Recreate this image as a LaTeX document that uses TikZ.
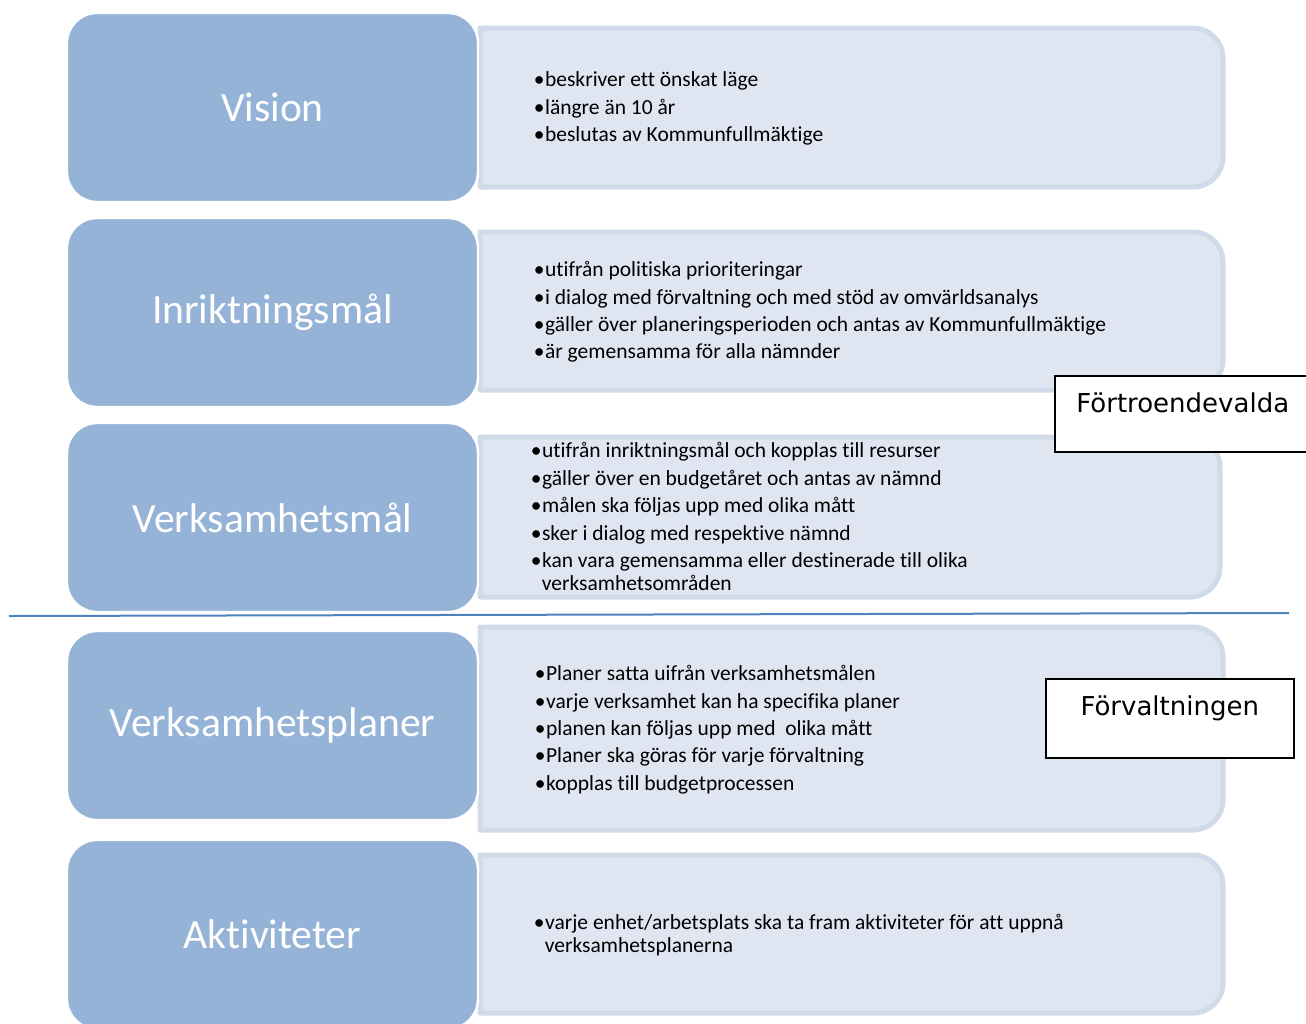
\documentclass[tikz,border=0pt]{standalone}
\usepackage{fontspec}
\setmainfont{Carlito}[RawFeature={-liga;-clig;-dlig}]
\newfontfamily\lblfont{DejaVu Sans}
\definecolor{bluebox}{HTML}{95B3D7}
\definecolor{lightfill}{HTML}{DFE6F1}
\definecolor{lightedge}{HTML}{D1DAE9}
\definecolor{divline}{HTML}{4F81BD}
\newcommand{\bt}{\makebox[5.6pt][l]{•}}
\newcommand{\rightbox}[4]{%
  \draw[rbox] (#1,#2) -- ({#3-30},#2) .. controls ({#3-13.4},#2) and (#3,{#2+13.4}) .. (#3,{#2+30})
    -- (#3,{#4-30}) .. controls (#3,{#4-13.4}) and ({#3-13.4},#4) .. ({#3-30},#4) -- (#1,#4) -- cycle;}
\begin{document}
\begin{tikzpicture}[x=0.5pt,y=-0.5pt,
  rbox/.style={fill=lightfill,draw=lightedge,line width=2.5pt,line join=round},
  bbox/.style={fill=bluebox,draw=white,line width=1.2pt,rounded corners=15pt,
    minimum width=205.5pt,minimum height=94.5pt,inner sep=0pt,text=white,
    font=\fontsize{20.8pt}{25pt}\selectfont},
  item/.style={anchor=mid west,inner sep=0pt,font=\fontsize{10.75pt}{12pt}\selectfont},
  lbox/.style={draw=black,line width=0.75pt,fill=white,anchor=north west,align=left,
    font=\lblfont\fontsize{13pt}{15pt}\selectfont,inner xsep=9.2pt,inner ysep=8.5pt,text height=10pt}
]
\useasboundingbox (0,0) rectangle (1306,1023);
\clip (0,0) rectangle (1306,1023);
% right boxes
\rightbox{480}{28}{1223}{187}
\rightbox{480}{232}{1223}{390}
\rightbox{480}{437}{1220}{597}
\rightbox{480}{627}{1223}{830}
\rightbox{480}{855}{1223}{1013}
% blue boxes
\node[bbox] (b1) at (272.5,107.5) {Vision};
\node[bbox] (b2) at (272.5,312.5) {Inriktningsmål};
\node[bbox] (b3) at (272.5,517.5) {Verksamhetsmål};
\node[bbox] (b4) at (272.5,725.5) {Verksamhetsplaner};
\node[bbox] (b5) at (272.5,934.5) {Aktiviteter};
% texts box 1
\node[item] (t1a) at (533.5,82) {\bt beskriver ett önskat läge};
\node[item] (t1b) at (533.5,110) {\bt längre än 10 år};
\node[item] (t1c) at (533.5,137) {\bt beslutas av Kommunfullmäktige};
% texts box 2
\node[item] (t2a) at (533.5,272) {\bt utifrån politiska prioriteringar};
\node[item] (t2b) at (533.5,300) {\bt i dialog med förvaltning och med stöd av omvärldsanalys};
\node[item] (t2c) at (533.5,327) {\bt gäller över planeringsperioden och antas av Kommunfullmäktige};
\node[item] (t2d) at (533.5,354) {\bt är gemensamma för alla nämnder};
% texts box 3
\node[item] (t3a) at (530.5,453) {\bt utifrån inriktningsmål och kopplas till resurser};
\node[item] (t3b) at (530.5,481) {\bt gäller över en budgetåret och antas av nämnd};
\node[item] (t3c) at (530.5,508) {\bt målen ska följas upp med olika mått};
\node[item] (t3d) at (530.5,536) {\bt sker i dialog med respektive nämnd};
\node[item] (t3e) at (530.5,563) {\bt kan vara gemensamma eller destinerade till olika};
\node[item] (t3f) at (541.5,586) {verksamhetsområden};
% texts box 4
\node[item] (t4a) at (534.5,676) {\bt Planer satta uifrån verksamhetsmålen};
\node[item] (t4b) at (534.5,704) {\bt varje verksamhet kan ha specifika planer};
\node[item] (t4c) at (534.5,731) {\bt planen kan följas upp med\ \ olika mått};
\node[item] (t4d) at (534.5,758) {\bt Planer ska göras för varje förvaltning};
\node[item] (t4e) at (534.5,786) {\bt kopplas till budgetprocessen};
% texts box 5
\node[item] (t5a) at (533.5,925) {\bt varje enhet/arbetsplats ska ta fram aktiviteter för att uppnå};
\node[item] (t5b) at (544.5,948) {verksamhetsplanerna};
% divider
\coordinate (dl) at (9,616);
\coordinate (dr) at (1289,613);
\draw[divline,line width=1pt] (dl) -- (dr);
% label boxes
\node[lbox,minimum width=128pt,text depth=11pt] (lf) at (1054,375) {Förtroendevalda};
\node[lbox,minimum width=124pt,text depth=12.5pt] (lv) at (1045,678) {Förvaltningen};
\end{tikzpicture}
\end{document}
